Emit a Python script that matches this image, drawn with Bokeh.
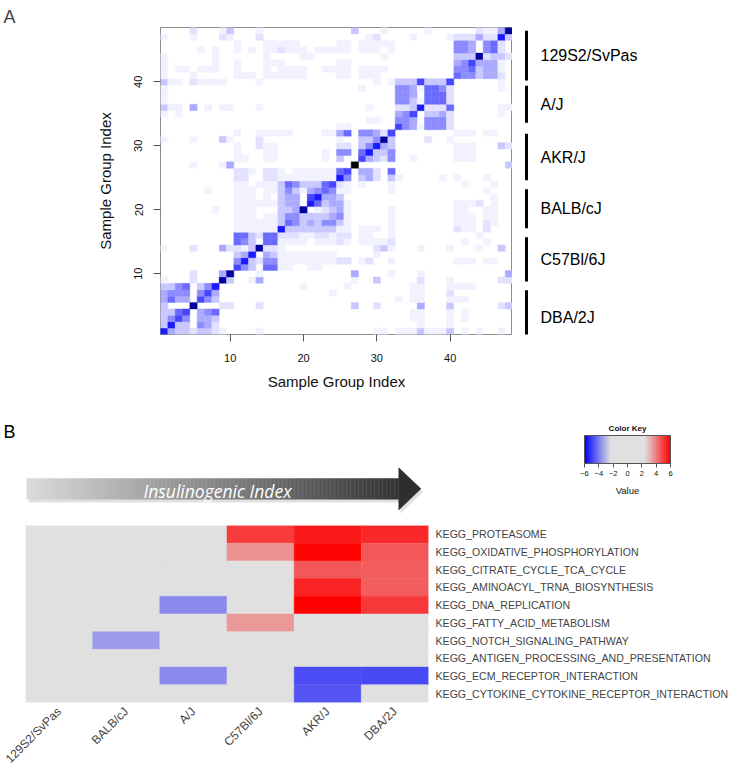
import math
import numpy as np
from bokeh.plotting import figure
from bokeh.models import Range1d, FixedTicker, LinearColorMapper, ColumnDataSource, FactorRange, ColorBar
from bokeh.layouts import row, column
from bokeh.transform import transform
from bokeh.core.properties import value
from bokeh.embed import file_html
from bokeh.resources import INLINE

# ---------------- DATA ----------------
# Panel A: sample-group similarity matrix, row index 1..48 (bottom to top),
# sparse "column:level" entries (level 0 = white ... 9 = navy, 10 = black)
MATRIX_ROWS = [
    "1:8 2:4 3:3 4:3 5:2 6:3 7:3 8:2 9:1 14:1 30:1 31:1 33:1 34:1 35:1 36:3 37:1 38:1 39:1 40:3 42:1 44:1 47:1",
    "1:3 2:8 3:3 4:3 6:5 7:4 8:2 36:1 40:1",
    "1:3 2:5 3:7 4:5 6:4 7:4 8:3 35:1 36:1 40:1 42:1",
    "1:3 2:3 3:6 4:7 6:4 7:5 8:6 35:1 36:1 40:1 42:1",
    "1:3 5:9 9:2 10:2 14:2 27:3 30:2 36:4 40:3 47:2 48:3",
    "1:4 2:6 3:4 4:4 6:7 7:5 8:3 33:1 35:1 36:1 40:1 41:1 42:1",
    "1:4 2:5 3:5 4:5 6:5 7:7 8:4 24:1 35:1 36:1 40:2",
    "1:3 2:3 3:5 4:6 6:3 7:5 8:8 20:1 26:1 35:1 36:1 40:1 41:1 42:1 43:1",
    "1:1 5:2 9:9 10:3 13:1 14:4 27:1 30:3 36:2 40:1 47:2 48:2",
    "5:2 9:4 10:9 14:1 27:4 32:1 36:1 48:4",
    "11:7 12:5 13:3 15:6 16:6 17:1 18:1 21:1 22:1",
    "11:5 12:8 13:3 14:2 15:5 16:5 17:1 18:1 19:1 20:1 21:1 22:1 23:1 24:1 25:2 26:2 28:1 29:2 32:1 41:1 42:1 43:1 45:1 46:1",
    "11:3 12:4 13:8 15:4 16:3 17:1 18:1 19:1 20:1 21:1 22:1 23:1 24:1 30:1",
    "1:1 5:2 9:4 10:2 11:2 12:1 13:3 14:9 15:2 16:2 17:1 30:2 31:3 32:1 36:1 40:1 44:1 47:3",
    "11:6 12:5 13:3 15:6 16:6 17:1 18:1 19:1 20:1 22:1 23:1 24:1 25:2 26:1 28:1 29:1 30:1 31:1 32:2 42:1 45:1",
    "11:6 12:6 13:3 14:2 15:6 16:6 17:2 18:2 19:2 20:1 21:1 22:2 23:2 24:1 25:2 26:2 28:1 29:1 32:1 44:1",
    "11:1 12:1 13:1 14:1 15:1 16:1 17:8 18:3 19:3 20:3 21:3 22:3 23:3 24:3 25:1 26:1 28:1 29:1 30:1 32:1 41:2 42:1 43:1 45:2",
    "11:1 12:1 13:1 14:1 15:1 16:1 17:3 18:6 19:5 20:3 21:4 22:3 23:5 24:5 25:3 26:1 32:1 41:1 42:1 43:1 45:2 46:1",
    "11:1 12:1 13:1 15:1 16:1 17:3 18:5 19:5 20:3 21:3 22:3 23:3 24:4 25:5 26:1 32:1 41:1 42:1 43:1 45:1 46:1",
    "8:1 11:1 12:1 13:1 17:3 18:3 19:4 20:9 22:1 23:2 24:3 25:4 26:1 32:1 41:1 42:1 45:1 46:1",
    "11:1 12:1 13:1 14:1 15:1 16:1 17:3 18:4 19:4 21:8 22:6 23:3 24:4 25:4 26:1 41:1 42:1 43:1 44:2 46:1",
    "11:1 12:1 13:1 15:1 17:3 18:4 19:4 21:7 22:8 23:4 24:4 25:3 46:1",
    "7:1 11:1 12:1 13:1 15:1 16:1 17:3 18:5 19:3 20:1 21:4 22:5 23:6 24:5 25:1 26:1 32:1 45:1",
    "11:1 12:1 14:1 15:1 16:1 17:3 18:6 19:5 20:3 21:3 22:3 23:6 24:7 25:2 26:1 28:1 32:1 42:1 46:1",
    "11:2 12:2 15:2 16:2 17:1 18:1 19:1 20:1 21:1 22:1 23:1 24:1 25:8 26:5 28:3 29:4 30:2 32:3 33:1 39:1 41:1 45:1",
    "11:2 12:2 13:1 15:2 16:2 17:1 19:1 20:1 21:1 22:1 23:1 24:1 25:6 26:7 28:4 29:4 30:2 32:6",
    "5:1 9:1 10:4 27:10 48:3",
    "11:1 12:1 15:1 16:1 23:1 25:3 28:7 29:4 30:3 31:2 32:5 35:1 41:1 42:1 43:1",
    "11:1 15:1 16:1 23:1 25:5 26:5 28:6 29:8 30:3 31:3 32:5 41:1 42:1 43:1",
    "11:1 14:2 15:1 16:1 25:2 26:2 28:3 29:5 30:8 31:4 32:3 41:1 42:1 43:1 47:3 48:2",
    "1:1 5:1 9:3 10:1 14:2 25:1 28:3 29:3 30:5 31:9 32:3 37:2 40:1",
    "11:1 14:1 15:1 16:1 17:1 18:1 23:1 24:1 25:4 26:6 28:5 29:5 30:4 31:2 32:7 41:1 42:1 43:1 45:1 46:1",
    "25:1 26:1 33:7 34:5 35:4 36:1 37:5 38:5 39:5 40:2",
    "29:1 30:1 33:5 34:5 35:4 37:5 38:5 39:5 40:2",
    "1:1 3:1 33:4 34:5 35:7 37:3 38:3 39:4 40:2 47:1",
    "1:3 2:1 3:1 5:4 7:1 9:1 10:1 14:1 29:1 33:2 34:2 35:3 36:8 37:2 38:2 39:2 40:6 47:1 48:1",
    "1:1 33:5 34:5 35:3 36:1 37:6 38:6 39:6 40:2",
    "1:1 33:5 34:5 35:4 37:6 38:6 39:6 40:2",
    "1:1 28:1 33:5 34:5 35:4 36:1 37:6 38:6 39:5 40:2 47:1",
    "1:3 2:1 3:1 5:2 6:1 7:1 8:1 9:1 14:1 30:1 32:1 33:3 34:3 35:3 36:7 37:3 38:3 39:3 40:7 47:1",
    "1:1 5:1 11:1 12:1 13:1 15:1 16:1 17:1 18:1 19:1 20:1 25:1 26:1 28:1 29:1 30:1 41:6 42:5 43:5 44:3 45:4 46:4 47:2",
    "1:1 3:1 4:1 6:1 7:1 8:1 11:1 15:1 17:1 18:1 19:1 20:1 23:1 24:1 25:1 26:1 28:1 29:1 30:1 31:1 41:5 42:5 43:6 44:3 45:4 46:4 47:1",
    "1:1 8:1 11:1 15:1 16:1 17:1 25:1 26:1 41:4 42:5 43:7 44:4 45:4 46:4 47:1",
    "1:1 8:1 15:1 20:1 21:1 31:1 41:3 42:3 43:3 44:9 45:2 46:3 47:3 48:2",
    "6:1 8:1 11:1 13:1 15:1 16:1 17:2 18:1 19:1 20:1 22:1 23:1 24:1 25:1 26:1 28:1 29:1 30:1 32:1 41:5 42:5 43:4 45:5 46:6 47:2",
    "11:1 15:1 16:1 17:1 18:1 19:1 25:1 26:1 28:1 29:1 30:1 31:1 32:1 41:5 42:5 43:4 45:5 46:6 47:2",
    "1:1 5:1 9:2 10:1 14:2 29:1 30:2 35:1 40:1 41:2 42:2 43:2 44:4 45:2 46:2 47:8 48:3",
    "5:2 9:1 10:3 14:1 27:3 31:1 37:1 44:2 45:1 46:1 47:4 48:9",
]
MATRIX_TICKS = [10, 20, 30, 40]

GROUP_NAMES = ["129S2/SvPas", "A/J", "AKR/J", "BALB/cJ", "C57Bl/6J", "DBA/2J"]
GROUP_BAR_TOP = [48.0, 39.4, 31.9, 23.2, 15.7, 7.4]
GROUP_BAR_BOTTOM = [40.2, 33.6, 24.6, 17.1, 8.8, -1.1]

# Panel B: pathway heatmap
STRAINS = ["129S2/SvPas", "BALB/cJ", "A/J", "C57Bl/6J", "AKR/J", "DBA/2J"]
PATHWAYS = [
    "KEGG_PROTEASOME",
    "KEGG_OXIDATIVE_PHOSPHORYLATION",
    "KEGG_CITRATE_CYCLE_TCA_CYCLE",
    "KEGG_AMINOACYL_TRNA_BIOSYNTHESIS",
    "KEGG_DNA_REPLICATION",
    "KEGG_FATTY_ACID_METABOLISM",
    "KEGG_NOTCH_SIGNALING_PATHWAY",
    "KEGG_ANTIGEN_PROCESSING_AND_PRESENTATION",
    "KEGG_ECM_RECEPTOR_INTERACTION",
    "KEGG_CYTOKINE_CYTOKINE_RECEPTOR_INTERACTION",
]
PATHWAY_VALUES = [
    [0, 0, 0, 5.05, 5.55, 5.33],
    [0, 0, 0, 3.64, 5.95, 4.55],
    [0, 0, 0, 0, 4.59, 4.47],
    [0, 0, 0, 0, 5.42, 4.47],
    [0, 0, -3.78, 0, 6.0, 5.07],
    [0, 0, 0, 3.53, 0, 0],
    [0, -3.48, 0, 0, 0, 0],
    [0, 0, 0, 0, 0, 0],
    [0, 0, -3.78, 0, -4.75, -4.81],
    [0, 0, 0, 0, -4.63, 0],
]
KEY_TICKS = [-6, -4, -2, 0, 2, 4, 6]
ARROW_TEXT = "Insulinogenic Index"

# ---------------- STYLE ----------------
FONT = "Liberation Sans"
LEVEL_COLORS = ["#ffffff", "#f2f2ff", "#e2e2ff", "#c8c8ff", "#aaaaff", "#8c8cff",
                "#6a6aff", "#4646ff", "#1a1aff", "#00009c", "#000000"]


def key_palette(n=256):
    blue, red, grey = np.array([0, 0, 255.]), np.array([255, 0, 0.]), np.array([224, 224, 224.])
    out = []
    for v in np.linspace(-6, 6, n):
        if v <= -2.4:
            t = (v + 6) / 3.6
            c = blue * (1 - t) + grey * t
        elif v >= 2.4:
            t = (6 - v) / 3.6
            c = red * (1 - t) + grey * t
        else:
            c = grey
        out.append("#%02x%02x%02x" % tuple(int(round(x)) for x in c))
    return out


def bare(p):
    p.grid.visible = False
    p.outline_line_color = None
    p.background_fill_color = None
    p.border_fill_color = None


# ---------------- PANEL A ----------------
W_A, W_TOP, W_STR, H_TOP = 40, 472, 226, 400
FT, FB, FL, FR = 27, 66, 120, 0

figA = figure(width=W_A, height=H_TOP, x_range=Range1d(0, 1), y_range=Range1d(0, 1),
              output_backend="svg", toolbar_location=None, x_axis_location=None, y_axis_location=None,
              title="A", min_border_left=0, min_border_right=0, min_border_top=FT, min_border_bottom=FB)
bare(figA)
figA.title.align = "left"
figA.title.offset = 3
figA.title.text_font = FONT
figA.title.text_font_size = "18px"
figA.title.text_font_style = "normal"
figA.title.standoff = 2

xs, ys, lv = [], [], []
for r, s in enumerate(MATRIX_ROWS, start=1):
    for tok in s.split():
        c, v = tok.split(":")
        xs.append(int(c)); ys.append(r); lv.append(int(v))
msrc = ColumnDataSource(dict(x=xs, y=ys, lv=lv))
mmap = LinearColorMapper(palette=LEVEL_COLORS, low=-0.5, high=10.5)

top = figure(width=W_TOP, height=H_TOP, x_range=Range1d(0.5, 48.5), y_range=Range1d(0.5, 48.5),
             output_backend="svg", toolbar_location=None, title=None,
             min_border_left=FL, min_border_right=FR, min_border_top=FT, min_border_bottom=FB)
top.grid.visible = False
top.outline_line_color = "#8c8c8c"
top.rect(x="x", y="y", width=1, height=1, source=msrc,
         fill_color=transform("lv", mmap), line_color=transform("lv", mmap), line_width=0.4)
for ax in (top.xaxis[0], top.yaxis[0]):
    ax.ticker = FixedTicker(ticks=MATRIX_TICKS)
    ax.axis_line_color = None
    ax.major_tick_in = 0
    ax.major_tick_out = 7
    ax.major_tick_line_color = "#555555"
    ax.minor_tick_line_color = None
    ax.major_label_text_font = FONT
    ax.major_label_text_font_size = "11px"
    ax.major_label_text_color = "#111111"
    ax.axis_label = "Sample Group Index"
    ax.axis_label_text_font = FONT
    ax.axis_label_text_font_size = "15px"
    ax.axis_label_text_font_style = "normal"
    ax.axis_label_text_color = "#111111"
top.xaxis.major_label_standoff = 12
top.xaxis.axis_label_standoff = 8
top.yaxis.major_label_orientation = "vertical"
top.yaxis.major_label_standoff = 11
top.yaxis.axis_label_standoff = 18

figS = figure(width=W_STR, height=H_TOP, x_range=Range1d(0, W_STR), y_range=Range1d(0.5, 48.5),
              output_backend="svg", toolbar_location=None, x_axis_location=None, y_axis_location=None,
              title=None, min_border_left=0, min_border_right=0, min_border_top=FT, min_border_bottom=FB)
bare(figS)
gsrc = ColumnDataSource(dict(name=GROUP_NAMES, y0=GROUP_BAR_BOTTOM, y1=GROUP_BAR_TOP,
                             ym=[(a + b) / 2 for a, b in zip(GROUP_BAR_BOTTOM, GROUP_BAR_TOP)],
                             xb=[14] * len(GROUP_NAMES), xt=[28] * len(GROUP_NAMES)))
figS.segment(x0="xb", y0="y0", x1="xb", y1="y1", source=gsrc, line_color="#000000", line_width=3)
figS.text(x="xt", y="ym", text="name", source=gsrc, text_font=value(FONT), text_font_size="16px",
          text_baseline="middle", text_align="left", text_color="#000000")

# ---------------- PANEL B header ----------------
W_H, H_H = 738, 117
figH = figure(width=W_H, height=H_H, x_range=Range1d(0, W_H), y_range=Range1d(H_H, 0),
              output_backend="svg", toolbar_location=None, x_axis_location=None, y_axis_location=None,
              title=None, min_border_left=0, min_border_right=0, min_border_top=0, min_border_bottom=0)
bare(figH)
figH.text(x=[3], y=[31], text=["B"], text_font=value(FONT), text_font_size="18px",
          text_baseline="alphabetic", text_align="left", text_color="#000000")
sx0, sx1, sy0, sy1, hx = 26, 398, 77.7, 99.0, 420.7
figH.patch(x=[sx0 + 2, sx1 + 2, sx1 + 2, hx + 2, sx1 + 2, sx1 + 2, sx0 + 2],
           y=[sy0 + 3, sy0 + 3, 66.7 + 3, 88.3 + 3, 110 + 3, sy1 + 3, sy1 + 3],
           fill_color="#000000", fill_alpha=0.12, line_color=None)
nseg = 93
edges = np.linspace(sx0, sx1, nseg + 1)
g0, g1 = np.array([218, 218, 218.]), np.array([52, 52, 52.])
gcols = ["#%02x%02x%02x" % tuple(int(round(x)) for x in (g0 + (g1 - g0) * t))
         for t in np.linspace(0, 1, nseg)]
figH.quad(left=edges[:-1], right=edges[1:] + 0.3, top=sy0, bottom=sy1, fill_color=gcols, line_color=None)
figH.patch(x=[sx1, hx, sx1], y=[66.7, 88.3, 110], fill_color="#2e2e2e", line_color=None)
figH.text(x=[217], y=[90.7], text=[ARROW_TEXT], text_font=value("Open Sans"), text_font_size="17.5px",
          text_font_style="italic", text_baseline="middle", text_align="center", text_color="#ffffff")

hmap = LinearColorMapper(palette=key_palette(), low=-6, high=6)
cbar = ColorBar(color_mapper=hmap, orientation="horizontal", location=(584, 39), width=86, height=28,
                padding=0, margin=0, ticker=FixedTicker(ticks=KEY_TICKS), title=None,
                major_tick_in=0, major_tick_out=4, major_tick_line_color="#555555",
                minor_tick_line_color=None, bar_line_color="#555555", border_line_color=None,
                background_fill_color=None, label_standoff=3,
                major_label_text_font=FONT, major_label_text_font_size="7.5px",
                major_label_text_color="#111111")
figH.add_layout(cbar)
figH.text(x=[627], y=[27.7], text=["Color Key"], text_font=value(FONT), text_font_size="8px",
          text_font_style="bold", text_baseline="middle", text_align="center", text_color="#111111")
figH.text(x=[627], y=[90], text=["Value"], text_font=value(FONT), text_font_size="9.5px",
          text_baseline="middle", text_align="center", text_color="#111111")

# ---------------- PANEL B heatmap ----------------
hx_, hy_, hv_ = [], [], []
for pw, vals in zip(PATHWAYS, PATHWAY_VALUES):
    for st, v in zip(STRAINS, vals):
        hx_.append(st); hy_.append(pw); hv_.append(v)
hsrc = ColumnDataSource(dict(strain=hx_, pathway=hy_, v=hv_))
figB = figure(width=738, height=261, x_range=FactorRange(*STRAINS), y_range=FactorRange(*PATHWAYS[::-1]),
              output_backend="svg", toolbar_location=None, title=None, y_axis_location="right",
              min_border_left=25, min_border_right=310, min_border_top=8, min_border_bottom=76)
figB.grid.visible = False
figB.outline_line_color = None
figB.rect(x="strain", y="pathway", width=1, height=1, source=hsrc,
          fill_color=transform("v", hmap), line_color=transform("v", hmap), line_width=0.5)
bx = figB.xaxis[0]
bx.axis_line_color = None
bx.major_tick_line_color = None
bx.major_tick_out = 0
bx.major_tick_in = 0
bx.major_label_orientation = math.pi / 4
bx.major_label_text_font = FONT
bx.major_label_text_font_size = "12px"
bx.major_label_standoff = 7
by = figB.yaxis[0]
by.axis_line_color = None
by.major_tick_line_color = None
by.major_tick_out = 0
by.major_tick_in = 0
by.major_label_text_font = FONT
by.major_label_text_font_size = "10.6px"
by.major_label_standoff = 7

layout = column(row(figA, top, figS), row(figH), figB)
open("out.html", "w").write(file_html(layout, INLINE))
